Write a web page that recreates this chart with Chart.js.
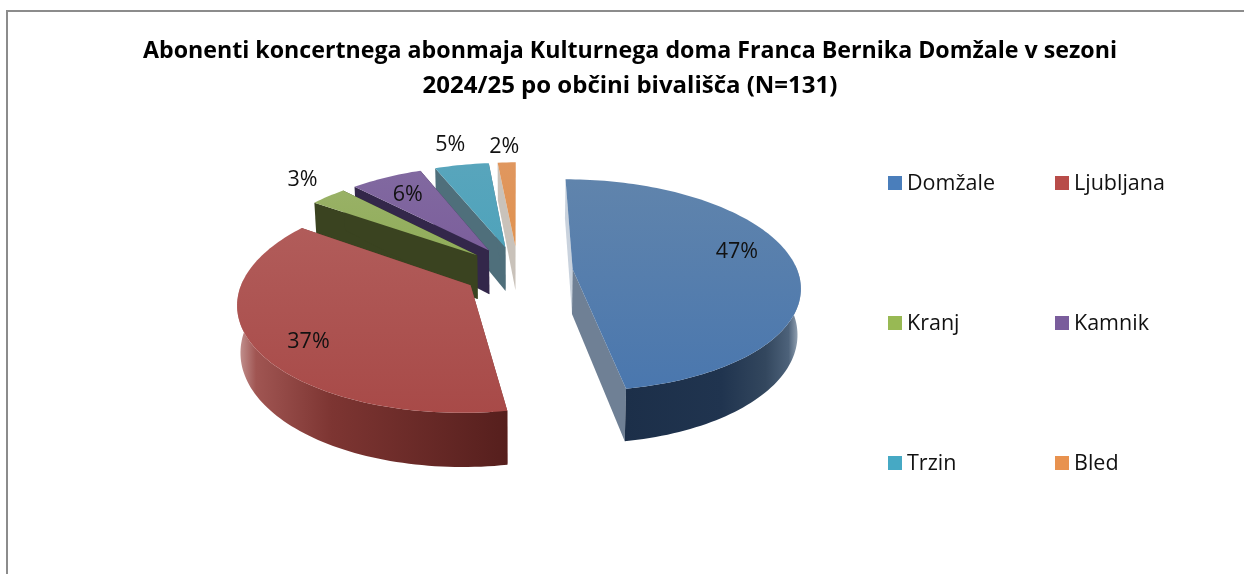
<!DOCTYPE html>
<html><head><meta charset="utf-8">
<style>html,body{margin:0;padding:0;background:#fff}#w{position:absolute;left:0;top:0;width:1244px;height:574px}</style>
<script src="https://cdn.jsdelivr.net/npm/chart.js@4"></script></head>
<body><div id="w"><canvas id="c" width="1244" height="574"></canvas></div>
<script>
const titleLine1 = 'Abonenti koncertnega abonmaja Kulturnega doma Franca Bernika Domžale v sezoni';
const titleLine2 = '2024/25 po občini bivališča (N=131)';
const categories = ['Domžale','Ljubljana','Kranj','Kamnik','Trzin','Bled'];
const subscribers = [62,49,4,8,6,2];

const legendColors = ['#4a7ebb','#b84c49','#98b954','#7a5d9c','#46a9c4','#e8924f'];
const topStart = ['#6084ac','#b15c5a','#99b166','#8169a0','#58a5bc','#e0975f'];
const topEnd   = ['#4a77ae','#a84a48','#90ad5a','#7c5f9c','#4fa3bb','#e0924f'];
const startFace = ['#c9d2dd','#7a3532','#3a4320','#33274a','#4f6f7b','#c9c2ba'];
const endFace   = ['#6f8095','#7a3532','#3a4320','#33274a','#4f6f7b','#c9c2ba'];
const sideStops = [
  [[0,'#1c2f49'],[0.55,'#20344f'],[0.8,'#33475e'],[0.93,'#4d627a'],[1,'#a9b6c4']],
  [[0,'#c79a98'],[0.07,'#a05552'],[0.35,'#7d3532'],[1,'#561f1d']],
  [[0,'#3a4320'],[1,'#3a4320']],[[0,'#33274a'],[1,'#33274a']],
  [[0,'#4f6f7b'],[1,'#4f6f7b']],[[0,'#c9c2ba'],[1,'#c9c2ba']]
];
const labelNudge = [[3,-11],[-4,11],[1,-6],[17,14],[-4,-6],[-1,-1]];
const labelRho = [0.73,0.75,1.2,0.95,1.2,1.2];

const PIE_CX_SHIFT = -112, TILT = 0.462, PERSP = 0.15, DEPTH = 45, SQUEEZE = 0.012;
const FONT = '"Open Sans"';

function projector(el){
  const cx = el.x + PIE_CX_SHIFT, cy = el.y, R = el.outerRadius;
  return (u,v,z)=>{
    const s = 1/(1-PERSP*v);
    return [cx + R*u*s*(1-SQUEEZE*z), cy + R*TILT*v*s + DEPTH*s*z];
  };
}
function polygon(ctx,pts){
  ctx.beginPath();
  pts.forEach((p,i)=> i?ctx.lineTo(p[0],p[1]):ctx.moveTo(p[0],p[1]));
  ctx.closePath();
}
const pie3d = {
  id:'pie3d',
  beforeDraw(chart){
    const c = chart.ctx;
    c.save();
    c.fillStyle='#8c8c8c';
    c.fillRect(6,10,chart.width-6,2);
    c.fillRect(6,10,2,chart.height-10);
    c.restore();
  },
  beforeDatasetDraw(chart,args){
    const c = chart.ctx, arcs = chart.getDatasetMeta(args.index).data;
    const total = subscribers.reduce((a,b)=>a+b,0);
    for(let i=arcs.length-1;i>=0;i--){
      const el = arcs[i], p = projector(el);
      const a0 = el.startAngle, a1 = el.endAngle, mid=(a0+a1)/2;
      const off = el.options.offset/el.outerRadius;
      const ou = off*Math.cos(mid), ov = off*Math.sin(mid);
      const rim=[], front=[]; const n=Math.max(4,Math.ceil((a1-a0)*40));
      for(let k=0;k<=n;k++){
        const a=a0+(a1-a0)*k/n, q=[ou+Math.cos(a),ov+Math.sin(a)];
        rim.push(q);
        if(Math.sin(a)>-0.05) front.push(q);
      }
      const topPts = rim.map(q=>p(q[0],q[1],0)), botPts = rim.map(q=>p(q[0],q[1],1));
      const apexT = p(ou,ov,0), apexB = p(ou,ov,1);
      // cut faces
      c.fillStyle = startFace[i];
      polygon(c,[apexT,topPts[0],botPts[0],apexB]); c.fill();
      c.fillStyle = endFace[i];
      polygon(c,[apexT,topPts[n],botPts[n],apexB]); c.fill();
      // outer side (front-facing part of the rim only)
      if(front.length>1){
        const ft = front.map(q=>p(q[0],q[1],0)), fb = front.map(q=>p(q[0],q[1],1));
        const xs = ft.concat(fb).map(q=>q[0]);
        const g = c.createLinearGradient(Math.min(...xs),0,Math.max(...xs),0);
        sideStops[i].forEach(s=>g.addColorStop(s[0],s[1]));
        c.fillStyle = g;
        polygon(c,ft.concat(fb.slice().reverse())); c.fill();
      }
      // top
      const all=[apexT].concat(topPts), ys=all.map(q=>q[1]);
      const t = c.createLinearGradient(0,Math.min(...ys),0,Math.max(...ys));
      t.addColorStop(0,topStart[i]); t.addColorStop(1,topEnd[i]);
      c.fillStyle = t;
      polygon(c,all); c.fill();
    }
    // value labels
    c.save();
    c.font = '21.5px '+FONT; c.fillStyle='#111'; c.textAlign='center'; c.textBaseline='middle';
    arcs.forEach((el,i)=>{
      const p = projector(el), mid=(el.startAngle+el.endAngle)/2;
      const off = el.options.offset/el.outerRadius, rho = labelRho[i];
      const q = p((off+rho)*Math.cos(mid),(off+rho)*Math.sin(mid),0);
      c.fillText(Math.round(subscribers[i]/total*100)+'%', q[0]+labelNudge[i][0], q[1]+labelNudge[i][1]);
    });
    c.restore();
    return false;
  },
  afterDraw(chart){
    const c = chart.ctx;
    const colX=[888,1055], rowY=[176,316,456];
    c.save();
    c.font='21.5px '+FONT; c.textBaseline='middle'; c.textAlign='left';
    chart.data.labels.forEach((lab,i)=>{
      const x=colX[i%2], y=rowY[Math.floor(i/2)];
      c.fillStyle=legendColors[i]; c.fillRect(x,y,14,14);
      c.fillStyle='#111'; c.fillText(lab,x+19,y+8);
    });
    c.restore();
  }
};
Chart.defaults.font.family = FONT;
new Chart(document.getElementById('c'),{
  type:'pie',
  data:{labels:categories,datasets:[{data:subscribers,backgroundColor:legendColors,borderWidth:0,offset:55,radius:225}]},
  options:{
    responsive:false,animation:false,rotation:0,
    layout:{padding:{left:16,bottom:138}},
    plugins:{
      legend:{display:false},tooltip:{enabled:false},
      title:{display:true,text:titleLine1,color:'#000',font:{family:FONT,size:23.2,weight:'bold',lineHeight:1.52},padding:{top:34,bottom:0}},
      subtitle:{display:true,text:titleLine2,color:'#000',font:{family:FONT,size:24,weight:'bold',lineHeight:1.43},padding:{top:0,bottom:3}}
    }
  },
  plugins:[pie3d]
});
</script></body></html>
